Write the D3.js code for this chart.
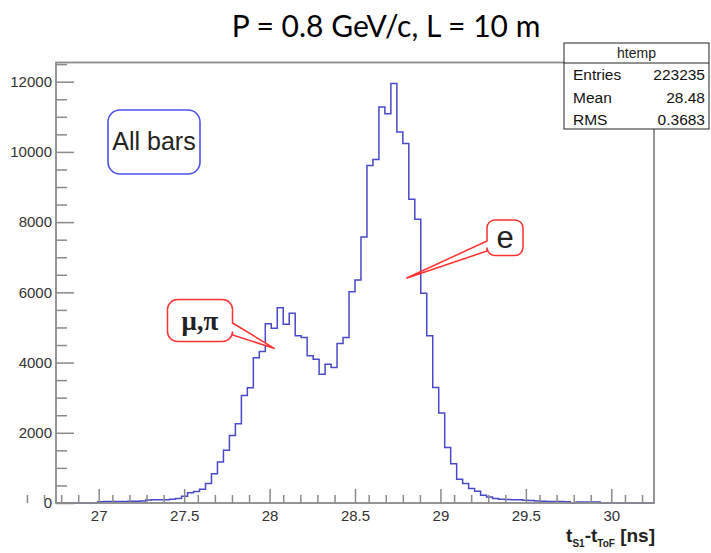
<!DOCTYPE html>
<html>
<head>
<meta charset="utf-8">
<script src="https://cdn.jsdelivr.net/npm/d3@7/dist/d3.min.js"></script>
<style>
  html, body { margin: 0; padding: 0; background: #fff; }
  svg { display: block; }
</style>
</head>
<body>
<svg id="chart" width="711" height="553"></svg>
<script>
// Histogram binning of t_S1 - t_ToF (ns): 100 equal bins
const binLow = 26.75;
const binHigh = 30.25;
const counts = [
  0, 0, 0, 0, 0, 0, 0,
  35, 40, 42, 45, 40, 48, 50, 55,
  85, 90, 95, 95, 105,
  125, 190, 290, 330, 390, 552, 836, 1166,
  1499, 1926, 2258, 3064, 3281, 4136, 4316, 5103, 4979, 5559,
  5093, 5406, 4762, 4714, 4193, 4097, 3670, 3955, 3860, 4543, 4714,
  6014, 6355, 7579, 9616, 9787, 11277, 11087, 11949, 10566, 10242, 8649, 8080,
  5974, 4762, 3292, 2560, 1580, 1120, 680, 552, 410, 333,
  219, 171, 125, 110, 100, 95, 90, 80, 70, 55, 50, 45, 45, 40, 35, 0, 30, 30, 25, 25,
  0, 0, 0, 0, 0, 0, 0, 0, 0
];

// Axis ticks and labels
const xTickValues = [27, 27.5, 28, 28.5, 29, 29.5, 30];
const xTickLabels = ["27", "27.5", "28", "28.5", "29", "29.5", "30"];
const yTickValues = [0, 2000, 4000, 6000, 8000, 10000, 12000];
const yTickLabels = ["0", "2000", "4000", "6000", "8000", "10000", "12000"];

// Statistics box
const statsTitle = "htemp";
const statsNames = ["Entries", "Mean", "RMS"];
const statsValues = ["223235", "28.48", "0.3683"];

const titleText = "P = 0.8 GeV/c, L = 10 m";

const svg = d3.select("#chart");
const frame = { left: 56, right: 654, top: 62.5, bottom: 503 };

const nBins = counts.length;
const binWidth = (binHigh - binLow) / nBins;
const yMax = d3.max(counts) * 1.05;

const x = d3.scaleLinear().domain([binLow, binHigh]).range([frame.left, frame.right]);
const y = d3.scaleLinear().domain([0, yMax]).range([frame.bottom, frame.top]);

const axisColor = "#8a8a8a";
const labelColor = "#333";

// Histogram outline (step curve)
const steps = counts.map((c, i) => [binLow + i * binWidth, c]);
steps.push([binHigh, counts[nBins - 1]]);
svg.append("path")
  .attr("d", d3.line()
    .x(d => x(d[0]))
    .y(d => y(d[1]))
    .curve(d3.curveStepAfter)(steps))
  .attr("fill", "none")
  .attr("stroke", "#4848c8")
  .attr("stroke-width", 1.5);

// Frame
svg.append("rect")
  .attr("x", frame.left).attr("y", frame.top)
  .attr("width", frame.right - frame.left)
  .attr("height", frame.bottom - frame.top)
  .attr("fill", "none")
  .attr("stroke", axisColor)
  .attr("stroke-width", 1.8);

// Y axis: major ticks with labels, minor ticks every 500
const yMinor = d3.range(500, yMax, 500).filter(v => v % 2000 !== 0);
svg.append("g")
  .attr("transform", `translate(${frame.left},0)`)
  .call(d3.axisLeft(y)
    .tickValues(yTickValues)
    .tickFormat((d, i) => yTickLabels[i])
    .tickSize(-18)
    .tickPadding(4));
svg.append("g")
  .attr("transform", `translate(${frame.left},0)`)
  .call(d3.axisLeft(y).tickValues(yMinor).tickFormat("").tickSize(-11));

// X axis: major ticks every 0.5, minor ticks every 0.1
const xMinor = d3.range(268, 3026, 10).map(v => v / 100).filter(v => Math.round(v * 10) % 5 !== 0);
svg.append("g")
  .attr("transform", `translate(0,${frame.bottom})`)
  .call(d3.axisBottom(x)
    .tickValues(xTickValues)
    .tickFormat((d, i) => xTickLabels[i])
    .tickSize(-14)
    .tickPadding(7.5));
svg.append("g")
  .attr("transform", `translate(0,${frame.bottom})`)
  .call(d3.axisBottom(x).tickValues(xMinor).tickFormat("").tickSize(-8));

svg.selectAll(".domain").remove();
svg.selectAll(".tick line").attr("stroke", axisColor).attr("stroke-width", 1.5);
svg.selectAll(".tick text")
  .attr("fill", labelColor)
  .style("font-family", "'Liberation Sans', Arial, sans-serif")
  .style("font-size", "15px");

// X axis title: t_S1 - t_ToF [ns]
const xTitle = svg.append("text")
  .attr("x", frame.right + 1)
  .attr("y", 542)
  .attr("text-anchor", "end")
  .attr("fill", "#222")
  .style("font-family", "'Liberation Sans', Arial, sans-serif")
  .style("font-weight", "bold")
  .style("font-size", "19px");
xTitle.append("tspan").text("t");
xTitle.append("tspan").attr("dy", 5).style("font-size", "10px").text("S1");
xTitle.append("tspan").attr("dy", -5).text("-t");
xTitle.append("tspan").attr("dy", 5).style("font-size", "10px").text("ToF");
xTitle.append("tspan").attr("dy", -5).text(" [ns]");

// Title
svg.append("text")
  .attr("x", 386)
  .attr("y", 37)
  .attr("text-anchor", "middle")
  .attr("fill", "#000")
  .style("font-family", "Lato, 'Open Sans', sans-serif")
  .style("font-size", "30px")
  .text(titleText);

// Statistics box
const sb = { x: 564, y: 43, w: 145, h: 86, sep: 63 };
const statsG = svg.append("g");
statsG.append("rect")
  .attr("x", sb.x).attr("y", sb.y).attr("width", sb.w).attr("height", sb.h)
  .attr("fill", "#fff").attr("stroke", "#222").attr("stroke-width", 1);
statsG.append("line")
  .attr("x1", sb.x).attr("x2", sb.x + sb.w)
  .attr("y1", sb.sep).attr("y2", sb.sep)
  .attr("stroke", "#222").attr("stroke-width", 1);
statsG.append("text")
  .attr("x", sb.x + sb.w / 2).attr("y", 58)
  .attr("text-anchor", "middle")
  .attr("fill", "#222")
  .style("font-family", "'Liberation Sans', Arial, sans-serif")
  .style("font-size", "14px")
  .text(statsTitle);
const rowBase = [80, 103, 125];
statsNames.forEach((name, i) => {
  statsG.append("text")
    .attr("x", 573).attr("y", rowBase[i])
    .attr("fill", "#111")
    .style("font-family", "'Liberation Sans', Arial, sans-serif")
    .style("font-size", "15.5px")
    .text(name);
  statsG.append("text")
    .attr("x", 705).attr("y", rowBase[i])
    .attr("text-anchor", "end")
    .attr("fill", "#111")
    .style("font-family", "'Liberation Sans', Arial, sans-serif")
    .style("font-size", "15.5px")
    .text(statsValues[i]);
});

// "All bars" label box
svg.append("rect")
  .attr("x", 108).attr("y", 110).attr("width", 92).attr("height", 64)
  .attr("rx", 12).attr("ry", 12)
  .attr("fill", "#fff")
  .attr("stroke", "#5050f0")
  .attr("stroke-width", 1.6);
svg.append("text")
  .attr("x", 154).attr("y", 150)
  .attr("text-anchor", "middle")
  .attr("fill", "#222")
  .style("font-family", "'Liberation Sans', Arial, sans-serif")
  .style("font-size", "25px")
  .text("All bars");

// Callout shape: rounded box with a pointer wedge on one side
function callout(b, r, side, w0, w1, tip) {
  const p = d3.path();
  const x0 = b.x0, x1 = b.x1, y0 = b.y0, y1 = b.y1;
  p.moveTo(x0 + r, y0);
  p.lineTo(x1 - r, y0);
  p.arcTo(x1, y0, x1, y0 + r, r);
  if (side === "right") {
    p.lineTo(x1, w0);
    p.lineTo(tip[0], tip[1]);
    p.lineTo(x1, w1);
  }
  p.lineTo(x1, y1 - r);
  p.arcTo(x1, y1, x1 - r, y1, r);
  p.lineTo(x0 + r, y1);
  p.arcTo(x0, y1, x0, y1 - r, r);
  if (side === "left") {
    p.lineTo(x0, w1);
    p.lineTo(tip[0], tip[1]);
    p.lineTo(x0, w0);
  }
  p.lineTo(x0, y0 + r);
  p.arcTo(x0, y0, x0 + r, y0, r);
  p.closePath();
  return p.toString();
}

// μ,π marker pointing at the lower peak
svg.append("path")
  .attr("d", callout({ x0: 167.5, x1: 232.5, y0: 299.5, y1: 341.5 }, 10, "right", 323, 335, [x(28.03), y(4400)]))
  .attr("fill", "#fff")
  .attr("stroke", "#ff3030")
  .attr("stroke-width", 1.5);
svg.append("text")
  .attr("x", 200).attr("y", 330)
  .attr("text-anchor", "middle")
  .attr("fill", "#222")
  .style("font-family", "'Liberation Serif', 'Times New Roman', serif")
  .style("font-weight", "bold")
  .style("font-size", "27px")
  .text("μ,π");

// e marker pointing at the upper peak
svg.append("path")
  .attr("d", callout({ x0: 487, x1: 523, y0: 220, y1: 255.5 }, 8, "left", 241, 251, [x(28.8), y(6400)]))
  .attr("fill", "#fff")
  .attr("stroke", "#ff3030")
  .attr("stroke-width", 1.5);
svg.append("text")
  .attr("x", 505).attr("y", 248)
  .attr("text-anchor", "middle")
  .attr("fill", "#222")
  .style("font-family", "'Liberation Sans', Arial, sans-serif")
  .style("font-size", "31px")
  .text("e");
</script>
</body>
</html>
